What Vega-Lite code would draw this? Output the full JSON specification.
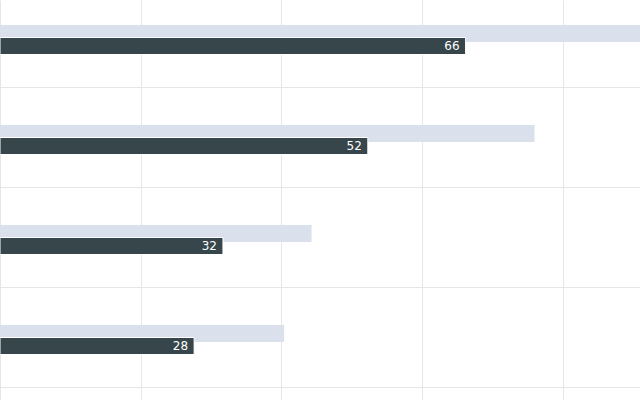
{
  "$schema": "https://vega.github.io/schema/vega-lite/v6.json",
  "autosize": "none",
  "padding": 0,
  "width": 640,
  "height": 400,
  "background": "#ffffff",
  "config": {"view": {"stroke": null}, "font": "DejaVu Sans"},
  "data": {
    "values": [
      {"category": "A", "value": 66.2, "target": 95},
      {"category": "B", "value": 52.3, "target": 76},
      {"category": "C", "value": 31.7, "target": 44.3},
      {"category": "D", "value": 27.6, "target": 40.4}
    ]
  },
  "encoding": {
    "y": {
      "field": "category",
      "type": "nominal",
      "sort": null,
      "scale": {"paddingInner": 0, "paddingOuter": 0},
      "axis": {"title": null, "labels": false, "ticks": false, "domain": false, "grid": true, "bandPosition": 0.875, "gridColor": "#e6e6e6", "gridWidth": 1}
    }
  },
  "layer": [
    {
      "mark": {"type": "bar", "height": 17, "yOffset": -16.5, "color": "#dae0ec", "clip": true},
      "encoding": {
        "x": {
          "field": "target",
          "type": "quantitative",
          "scale": {"domain": [0, 91], "nice": false, "zero": true},
          "axis": {"title": null, "labels": false, "ticks": false, "domain": false, "grid": true, "values": [0, 20, 40, 60, 80], "gridColor": "#e6e6e6"}
        }
      }
    },
    {
      "mark": {"type": "bar", "height": 17, "yOffset": -4, "color": "#37464a", "stroke": "#ffffff", "strokeWidth": 1, "clip": true},
      "encoding": {
        "x": {"field": "value", "type": "quantitative"}
      }
    },
    {
      "mark": {"type": "text", "align": "right", "baseline": "middle", "dx": -6, "yOffset": -4, "color": "#ffffff", "fontSize": 12},
      "encoding": {
        "x": {"field": "value", "type": "quantitative"},
        "text": {"field": "value", "type": "quantitative", "format": ".0f"}
      }
    }
  ]
}
